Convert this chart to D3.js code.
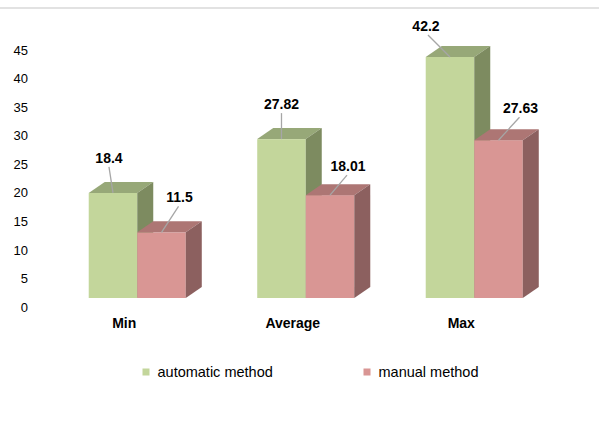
<!DOCTYPE html>
<html>
<head>
<meta charset="utf-8">
<script src="https://cdn.jsdelivr.net/npm/d3@7"></script>
<style>
  html, body { margin: 0; padding: 0; background: #fff; }
  svg { display: block; font-family: "Liberation Sans", Arial, sans-serif; }
</style>
</head>
<body>
<svg id="chart" width="599" height="427"></svg>
<script>
// Chart data
const categories = ["Min", "Average", "Max"];
const seriesNames = ["automatic method", "manual method"];
const automaticValues = [18.4, 27.82, 42.2];
const manualValues = [11.5, 18.01, 27.63];
const yTicks = [0, 5, 10, 15, 20, 25, 30, 35, 40, 45];

// Palette per series: front, top, side faces
const palette = [
  { front: "#c3d69b", top: "#97a878", side: "#7d8b60" },
  { front: "#d99694", top: "#ad7674", side: "#8c605f" }
];

// Data-label placement relative to each bar's front-top centre
const labelShift = [
  [[-4, -35], [0, -35], [-24, -31]],
  [[18, -35], [18, -29], [22, -32]]
];

const svg = d3.select("#chart");
const W = 599;

// Depth offset of the 3D boxes
const depthX = 16, depthY = 11;

// Scales
const x = d3.scaleBand().domain(categories).range([53, 558.5]).paddingInner(0.424).paddingOuter(0.212);
const x1 = d3.scaleBand().domain(seriesNames).range([0, x.bandwidth()]);
const axisY = d3.scaleLinear().domain([0, 45]).range([307, 50]);
const barY = d3.scaleLinear().domain([0, 45]).range([298, 298 - 45 * 5.711]);

// Frame line across the top
svg.append("line").attr("x1", 0).attr("x2", W).attr("y1", 8).attr("y2", 8)
  .attr("stroke", "#d9d9d9").attr("stroke-width", 1.5);

// Y axis labels (no line, no gridlines)
const yAxis = d3.axisLeft(axisY).tickValues(yTicks).tickSize(0).tickPadding(0);
const gy = svg.append("g").attr("transform", "translate(28,0)").call(yAxis);
gy.select(".domain").remove();
gy.selectAll("text").attr("font-size", 13).attr("fill", "#000")
  .attr("font-family", "Liberation Sans, Arial, sans-serif");

// Bars
const series = [automaticValues, manualValues];
const gBars = svg.append("g");
series.forEach((vals, si) => {
  vals.forEach((v, ci) => {
    const x0 = x(categories[ci]) + x1(seriesNames[si]);
    const w = x1.bandwidth();
    const xr = x0 + w;
    const yt = barY(v), yb = barY(0);
    const c = palette[si];
    const g = gBars.append("g");
    g.append("rect").attr("x", x0).attr("y", yt).attr("width", w).attr("height", yb - yt).attr("fill", c.front);
    g.append("path").attr("fill", c.top)
      .attr("d", `M${x0},${yt}L${xr},${yt}L${xr + depthX},${yt - depthY}L${x0 + depthX},${yt - depthY}Z`);
    g.append("path").attr("fill", c.side)
      .attr("d", `M${xr},${yt}L${xr + depthX},${yt - depthY}L${xr + depthX},${yb - depthY}L${xr},${yb}Z`);
  });
});

// Data labels with leader lines
const gLabels = svg.append("g");
series.forEach((vals, si) => {
  vals.forEach((v, ci) => {
    const cx = x(categories[ci]) + x1(seriesNames[si]) + x1.bandwidth() / 2;
    const cy = barY(v);
    const [dx, dy] = labelShift[si][ci];
    const lx = cx + dx, ly = cy + dy;
    gLabels.append("line")
      .attr("x1", lx + (dx < -5 ? 2 : dx > 5 ? -1 : 0)).attr("y1", ly + 9)
      .attr("x2", cx).attr("y2", cy)
      .attr("stroke", "#a6a6a6").attr("stroke-width", 1.3);
    gLabels.append("text").attr("x", lx).attr("y", ly + 5)
      .attr("text-anchor", "middle").attr("font-size", 14).attr("font-weight", "bold")
      .attr("fill", "#000").text(String(v));
  });
});

// Category labels
svg.append("g").selectAll("text").data(categories).join("text")
  .attr("x", d => x(d) + x.bandwidth() / 2 - 13)
  .attr("y", 328)
  .attr("text-anchor", "middle").attr("font-size", 14).attr("font-weight", "bold")
  .attr("fill", "#000").text(d => d);

// Legend
const legendX = [142.5, 363.5];
const legend = svg.append("g");
seriesNames.forEach((name, i) => {
  legend.append("rect").attr("x", legendX[i]).attr("y", 368.5).attr("width", 7).attr("height", 7)
    .attr("fill", palette[i].front);
  legend.append("text").attr("x", legendX[i] + 15).attr("y", 377)
    .attr("font-size", 14.5).attr("fill", "#000").text(name);
});
</script>
</body>
</html>
